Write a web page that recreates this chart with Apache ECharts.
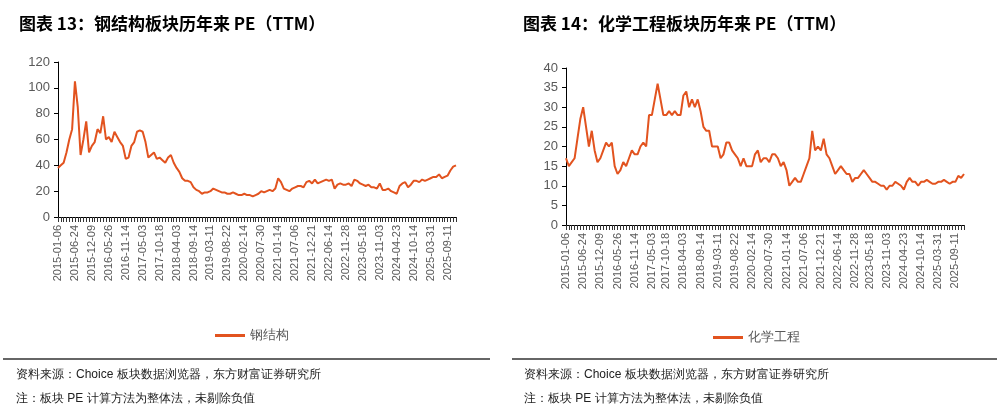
<!DOCTYPE html>
<html><head><meta charset="utf-8">
<script src="https://cdn.jsdelivr.net/npm/echarts@6/dist/echarts.min.js"></script>
<style>html,body{margin:0;padding:0;background:#fff}#c{width:997px;height:413px}</style>
</head><body><div id="c"></div>
<script>
const tickLabels = ["2015-01-06","2015-06-24","2015-12-09","2016-05-26","2016-11-14","2017-05-03","2017-10-18","2018-04-03","2018-09-14","2019-03-11","2019-08-22","2020-02-14","2020-07-30","2021-01-14","2021-07-06","2021-12-21","2022-06-14","2022-11-28","2023-05-18","2023-11-03","2024-04-23","2024-10-14","2025-03-31","2025-09-11"];
const steel = [38,40,42,50,60,68,105,85,48,60,74,50,55,58,68,65,78,60,62,58,66,62,58,55,45,46,55,58,66,67,66,58,46,48,50,45,46,44,42,46,48,42,38,35,30,28,28,27,23,21,20,18,19,19,20,22,21,20,19,19,18,18,19,18,17,17,18,17,17,16,17,18,20,19,20,21,20,22,30,27,22,21,20,22,23,24,24,23,27,28,26,29,26,27,28,29,28,29,22,25,26,25,25,26,24,29,28,26,25,24,25,23,23,22,26,21,21,22,20,19,18,24,26,27,23,25,28,28,27,29,28,29,30,31,31,33,30,31,32,36,39,40];
const chem = [17,15,16,17,22,27,30,25,20,24,19,16,17,19,21,20,21,15,13,14,16,15,17,19,18,18,20,21,20,28,28,32,36,32,28,28,29,28,29,28,28,33,34,30,32,30,32,29,25,24,24,20,20,20,17,18,21,21,19,18,17,15,17,15,15,15,18,19,16,17,17,16,18,18,17,15,16,14,10,11,12,11,11,13,15,17,24,19,20,19,22,18,17,15,13,14,15,14,13,13,11,12,12,13,14,13,12,11,11,10.5,10,10,9,10,10,11,10.5,10,9,11,12,11,11,10,11,11,11.5,11,10.5,10.5,11,11,11.5,11,10.5,11,11,12.5,12,13];
const names = ["钢结构","化学工程"];
const titles = ["图表 13：钢结构板块历年来 PE（TTM）","图表 14：化学工程板块历年来 PE（TTM）"];
const footer1 = "资料来源：Choice 板块数据浏览器，东方财富证券研究所";
const footer2 = "注：板块 PE 计算方法为整体法，未剔除负值";

function cats(n){ const a=[]; for(let i=0;i<n;i++) a.push(String(i)); return a; }
function labelIdx(n){ const m={}; tickLabels.forEach((t,k)=>{ m[Math.round(k*(n-4)/(tickLabels.length-1))]=t; }); return m; }
function xAxis(n, gi){
  const m = labelIdx(n);
  return {type:'category', gridIndex:gi, data:cats(n), boundaryGap:false,
    axisLine:{lineStyle:{color:'#000'}},
    axisTick:{interval:0,length:5,lineStyle:{color:'#333'}},
    axisLabel:{interval:(i)=>m[i]!==undefined, formatter:(v,i)=>m[i]||'', rotate:90, color:'#595959', fontSize:11, fontFamily:'Liberation Sans'}};
}
function yAxis(gi,max,itv){
  return {type:'value', gridIndex:gi, min:0, max:max, interval:itv, splitLine:{show:false},
    axisLine:{show:true,lineStyle:{color:'#000'}}, axisTick:{show:true,length:4,lineStyle:{color:'#000'}},
    axisLabel:{color:'#595959',fontSize:13,fontFamily:'Liberation Sans'}};
}
const chart = echarts.init(document.getElementById('c'));
chart.setOption({
  animation:false,
  title:[
    {text:titles[0],left:14,top:10,textStyle:{fontSize:17,fontWeight:'bold',color:'#000',fontFamily:'Noto Sans CJK SC'}},
    {text:titles[1],left:518,top:10,textStyle:{fontSize:17,fontWeight:'bold',color:'#000',fontFamily:'Noto Sans CJK SC'}}
  ],
  grid:[{left:58,top:62,width:398,height:155},{left:566,top:68,width:398,height:157}],
  xAxis:[xAxis(steel.length,0),xAxis(chem.length,1)],
  yAxis:[yAxis(0,120,20),yAxis(1,40,5)],
  legend:[
    {data:[names[0]],left:210,top:324,itemWidth:30,itemHeight:3,icon:'rect',textStyle:{color:'#595959',fontSize:13}},
    {data:[names[1]],left:708,top:326,itemWidth:30,itemHeight:3,icon:'rect',textStyle:{color:'#595959',fontSize:13}}
  ],
  series:[
    {name:names[0],type:'line',xAxisIndex:0,yAxisIndex:0,data:steel,showSymbol:false,lineStyle:{color:'#E2531F',width:2},itemStyle:{color:'#E2531F'}},
    {name:names[1],type:'line',xAxisIndex:1,yAxisIndex:1,data:chem,showSymbol:false,lineStyle:{color:'#E2531F',width:2},itemStyle:{color:'#E2531F'}}
  ],
  graphic:[
    {type:'rect',shape:{x:3,y:358,width:487,height:2},style:{fill:'#666'}},
    {type:'rect',shape:{x:512,y:358,width:485,height:2},style:{fill:'#666'}},
    {type:'text',left:16,top:369,style:{text:footer1,fontSize:12,fill:'#222',font:'12px "Noto Sans CJK SC"'}},
    {type:'text',left:16,top:393,style:{text:footer2,fontSize:12,fill:'#222',font:'12px "Noto Sans CJK SC"'}},
    {type:'text',left:524,top:369,style:{text:footer1,fontSize:12,fill:'#222',font:'12px "Noto Sans CJK SC"'}},
    {type:'text',left:524,top:393,style:{text:footer2,fontSize:12,fill:'#222',font:'12px "Noto Sans CJK SC"'}}
  ]
});
</script></body></html>
